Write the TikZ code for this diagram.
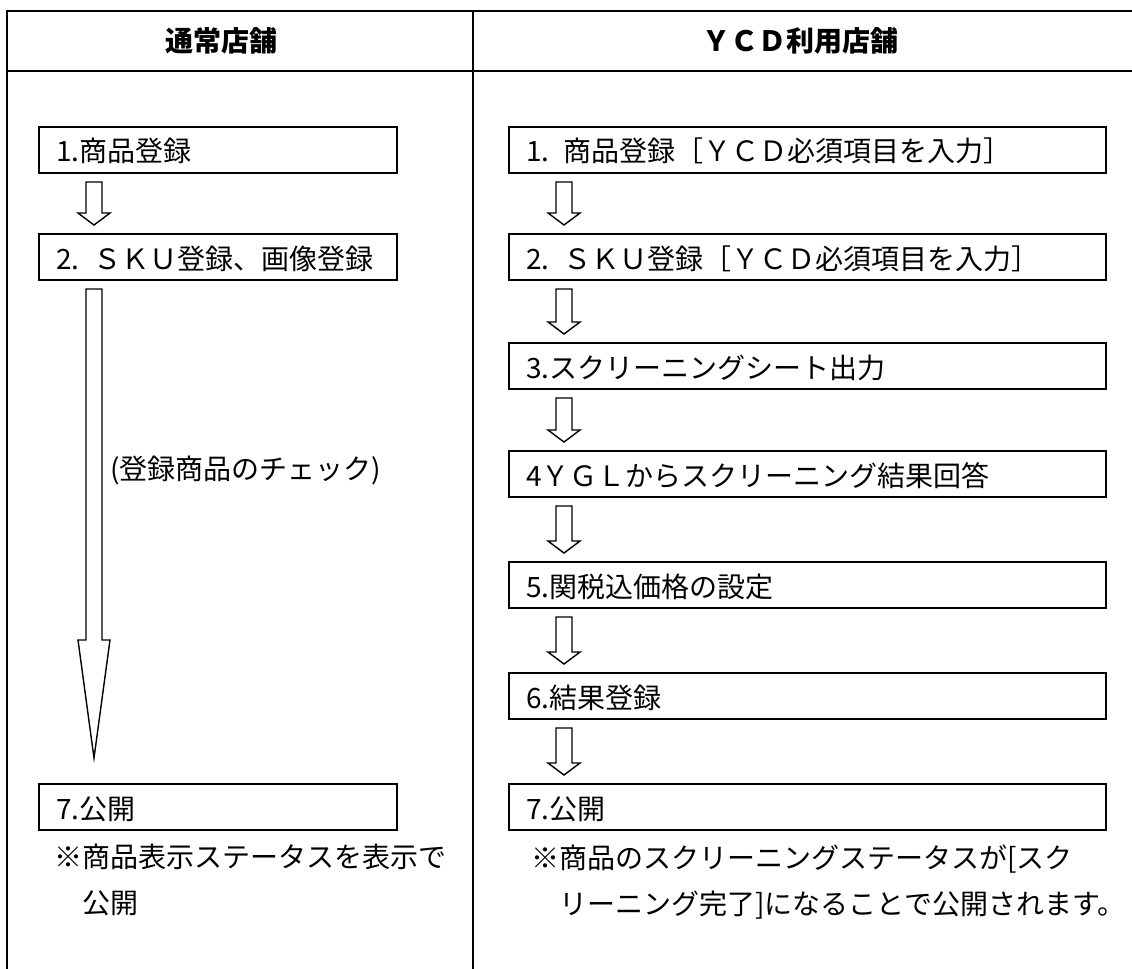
\documentclass[tikz,border=0pt]{standalone}
\usepackage{fontspec}
\setmainfont{Noto Sans CJK JP}
\usetikzlibrary{calc}
\begin{document}
\begin{tikzpicture}[x=0.5pt,y=-0.5pt,line join=miter,
		frame/.style={line width=1pt},
		stepbox/.style={draw,line width=1pt,anchor=north west,minimum height=23pt,inner xsep=8.5pt,inner ysep=0pt,text height=1.2em,text depth=0pt,align=left,font=\fontsize{14pt}{17pt}\selectfont},
		leftbox/.style={stepbox,minimum width=179pt,text width=162pt},
		rightbox/.style={stepbox,minimum width=298.5pt,text width=281.5pt},
		headtext/.style={inner sep=0pt,font=\fontsize{14pt}{17pt}\selectfont\bfseries},
		notetext/.style={inner sep=0pt,anchor=north west,align=left,font=\fontsize{14pt}{23pt}\selectfont},
		blockarrow/.style={draw,line width=0.7pt,fill=white}]
				\def\hollowarrow#1#2#3#4{\draw[blockarrow] let \p1=($(#1.south west)+(56,8)$), \p2=($(#2.north west)+(56,-#3)$) in (\x1-4pt,\y1) -- (\x1+4pt,\y1) -- (\x1+4pt,\y2+#4) -- (\x1+8pt,\y2+#4) -- (\x1,\y2) -- (\x1-8pt,\y2+#4) -- (\x1-4pt,\y2+#4) -- cycle;}
				\useasboundingbox (0,0) rectangle (1132,969);
				\draw[frame] (1132,11) -- (7,11) -- (7,969);
				\draw[frame] (7,71) -- (1132,71);
				\draw[frame] (473,11) -- (473,969);
				\node[headtext] (hleft) at (221,41) {通常店舗};
				\node[headtext] (hright) at (800,41) {ＹＣＤ利用店舗};
				\node[leftbox] (l1) at (38,126) {1.商品登録};
				\node[leftbox] (l2) at (38,233) {2. ＳＫＵ登録、画像登録};
				\node[leftbox] (l7) at (38,783) {7.公開};
				\node[rightbox] (r1) at (508,126) {1. 商品登録［ＹＣＤ必須項目を入力］};
				\node[rightbox] (r2) at (508,233) {2. ＳＫＵ登録［ＹＣＤ必須項目を入力］};
				\node[rightbox] (r3) at (508,342) {3.スクリーニングシート出力};
				\node[rightbox] (r4) at (508,450) {4ＹＧＬからスクリーニング結果回答};
				\node[rightbox] (r5) at (508,561) {5.関税込価格の設定};
				\node[rightbox] (r6) at (508,672) {6.結果登録};
				\node[rightbox] (r7) at (508,783) {7.公開};
				\foreach \a/\b in {l1/l2,r1/r2,r2/r3,r3/r4,r4/r5,r5/r6,r6/r7} \hollowarrow{\a}{\b}{8}{6pt};
				\hollowarrow{l2}{l7}{25}{59pt};
				\node[headtext,font=\fontsize{14pt}{17pt}\selectfont,anchor=west] (check) at (110,470) {(登録商品のチェック)};
				\node[notetext] (nleft) at (54,844) {※商品表示ステータスを表示で\\　公開};
				\node[notetext] (nright) at (531,844) {※商品のスクリーニングステータスが[スク\\　リーニング完了]になることで公開されます。};
			\end{tikzpicture}
\end{document}
